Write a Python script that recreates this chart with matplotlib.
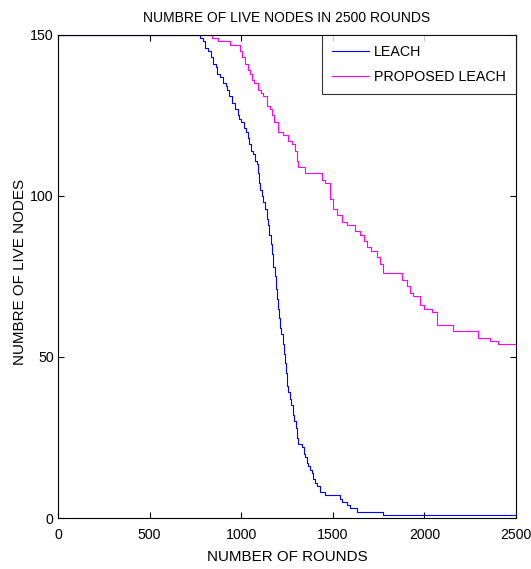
import matplotlib
matplotlib.use('Agg')
import matplotlib.pyplot as plt

plt.rcParams['font.family'] = ['Liberation Sans', 'DejaVu Sans']

# LEACH: rounds where the number of live nodes changes
leach_rounds = [0, 760, 775, 790, 805, 820, 835, 846, 860, 870, 885, 900, 915, 922, 935,
                950, 965, 980, 990, 1000, 1013, 1026, 1035, 1045, 1055, 1065, 1075, 1086,
                1092, 1097, 1105, 1115, 1121, 1130, 1140, 1146, 1152, 1160, 1168, 1175,
                1182, 1188, 1194, 1200, 1205, 1212, 1218, 1227, 1233, 1239, 1245, 1252,
                1258, 1266, 1273, 1281, 1289, 1297, 1305, 1312, 1330, 1340, 1348, 1357,
                1366, 1375, 1385, 1394, 1403, 1415, 1430, 1457, 1539, 1548, 1575, 1594,
                1630, 1774, 2500]
leach_nodes = [150, 150, 149, 148, 146, 145, 143, 141, 140, 138, 137, 135, 134, 133, 131,
               129, 127, 125, 124, 123, 121, 120, 118, 116, 114, 113, 111, 110,
               107, 104, 102, 100, 98, 96, 93, 91, 88, 85, 82, 78,
               75, 71, 68, 65, 62, 59, 57, 54, 51, 48, 45, 41,
               39, 37, 35, 32, 30, 28, 25, 23, 22, 20, 19, 17,
               16, 15, 14, 12, 11, 10, 8, 7, 6, 5, 4, 3,
               2, 1, 1]

# proposed LEACH
prop_rounds = [0, 839, 873, 939, 993, 1005, 1021, 1035, 1048, 1060, 1070, 1093, 1110, 1121,
               1140, 1157, 1170, 1180, 1203, 1230, 1257, 1275, 1294, 1305, 1312, 1348,
               1440, 1457, 1485, 1500, 1521, 1550, 1576, 1621, 1648, 1670, 1685, 1710,
               1740, 1760, 1776, 1876, 1903, 1920, 1939, 1976, 2000, 2040, 2067, 2158,
               2294, 2358, 2403, 2500]
prop_nodes = [150, 149, 148, 147, 145, 143, 141, 139, 138, 136, 135, 133, 132, 131,
              128, 127, 125, 123, 120, 119, 117, 116, 114, 111, 109, 107,
              105, 104, 99, 96, 94, 92, 91, 89, 88, 86, 84, 83,
              81, 79, 76, 74, 72, 70, 69, 66, 65, 64, 60, 58,
              56, 55, 54, 54]

fig = plt.figure(figsize=(5.31, 5.69), dpi=100)
ax = fig.add_axes([0.109, 0.0896, 0.863, 0.849])

ax.plot(leach_rounds, leach_nodes, color='#0000ff', lw=0.8, drawstyle='steps-post', label='LEACH')
ax.plot(prop_rounds, prop_nodes, color='#ff00ff', lw=0.8, drawstyle='steps-post', label='PROPOSED LEACH')

ax.set_xlim(0, 2500)
ax.set_ylim(0, 150)
ax.set_xticks([0, 500, 1000, 1500, 2000, 2500])
ax.set_yticks([0, 50, 100, 150])
ax.tick_params(direction='in', top=True, right=True, labelsize=10.2, length=4, width=0.8)
ax.tick_params(axis='x', pad=7)
ax.tick_params(axis='y', pad=3)
for s in ax.spines.values():
    s.set_linewidth(0.8)

ax.set_title('NUMBRE OF LIVE NODES IN 2500 ROUNDS', fontsize=10, pad=9)
ax.set_xlabel('NUMBER OF ROUNDS', fontsize=10.9)
ax.set_ylabel('NUMBRE OF LIVE NODES', fontsize=10.9)
ax.xaxis.set_label_coords(0.5, -0.066)
ax.yaxis.set_label_coords(-0.068, 0.51)

leg = ax.legend(loc='upper right', fontsize=10.3, frameon=True, fancybox=False,
                borderaxespad=0, handlelength=2.6, handletextpad=0.35,
                borderpad=0.7, labelspacing=0.8)
leg.get_frame().set_edgecolor('black')
leg.get_frame().set_linewidth(0.8)

fig.savefig('out.png', dpi=100)
